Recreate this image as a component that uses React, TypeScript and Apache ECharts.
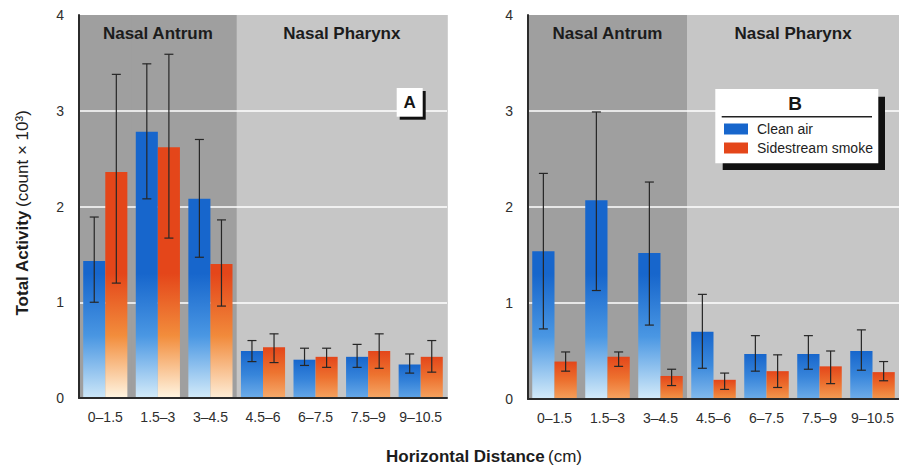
import React, { useEffect, useRef } from 'react';
import * as echarts from 'echarts';

// ---------- data ----------
const categories = ['0–1.5', '1.5–3', '3–4.5', '4.5–6', '6–7.5', '7.5–9', '9–10.5'];
const regions = ['Nasal Antrum', 'Nasal Antrum', 'Nasal Antrum', 'Nasal Pharynx', 'Nasal Pharynx', 'Nasal Pharynx', 'Nasal Pharynx'];
const seriesNames = ['Clean air', 'Sidestream smoke'];
const yMin = 0;
const yMax = 4;
const yInterval = 1;

// Panel A
const cleanAirA = [1.43, 2.78, 2.08, 0.49, 0.40, 0.43, 0.35];
const cleanAirALow = [1.00, 2.08, 1.47, 0.38, 0.34, 0.32, 0.26];
const cleanAirAHigh = [1.89, 3.49, 2.70, 0.60, 0.52, 0.56, 0.46];
const smokeA = [2.36, 2.62, 1.40, 0.53, 0.43, 0.49, 0.43];
const smokeALow = [1.20, 1.67, 0.96, 0.37, 0.32, 0.31, 0.27];
const smokeAHigh = [3.38, 3.59, 1.86, 0.67, 0.52, 0.67, 0.60];

// Panel B
const cleanAirB = [1.54, 2.07, 1.52, 0.70, 0.47, 0.47, 0.50];
const cleanAirBLow = [0.73, 1.13, 0.77, 0.32, 0.29, 0.31, 0.30];
const cleanAirBHigh = [2.35, 2.99, 2.26, 1.09, 0.66, 0.66, 0.72];
const smokeB = [0.39, 0.44, 0.24, 0.20, 0.29, 0.34, 0.28];
const smokeBLow = [0.29, 0.34, 0.14, 0.10, 0.12, 0.16, 0.19];
const smokeBHigh = [0.49, 0.49, 0.31, 0.27, 0.46, 0.50, 0.39];

// ---------- styling ----------
const FONT = '"Liberation Sans", Arial, Helvetica, sans-serif';
const DARK_BG = '#9f9f9f';
const LIGHT_BG = '#c6c6c6';
const BLUE = ['#1766cc', '#4a97e3', '#d4ebf9'];
const ORANGE = ['#e4461a', '#f28d3c', '#fff5e2'];

function hex(c: string) {
  const n = parseInt(c.slice(1), 16);
  return [(n >> 16) & 255, (n >> 8) & 255, n & 255];
}
function mix(a: string, b: string, t: number) {
  const A = hex(a), B = hex(b);
  const r = A.map((v, i) => Math.round(v + (B[i] - v) * t));
  return `rgb(${r[0]},${r[1]},${r[2]})`;
}
function scaleColor(pal: string[], t: number) {
  if (t <= 0.5) return mix(pal[0], pal[1], t / 0.5);
  return mix(pal[1], pal[2], (t - 0.5) / 0.5);
}
function barItems(values: number[], pal: string[]) {
  return values.map((v) => {
    const fadeStart = Math.max(0, 1 - 1.3 / v);
    const p = 0.45 + 0.55 * Math.min(1, v / 1.5);
    return {
      value: v,
      itemStyle: {
        color: {
          type: 'linear', x: 0, y: 0, x2: 0, y2: 1,
          colorStops: [
            { offset: 0, color: scaleColor(pal, 0) },
            { offset: fadeStart, color: scaleColor(pal, 0) },
            { offset: fadeStart + (1 - fadeStart) * 0.5, color: scaleColor(pal, p * 0.5) },
            { offset: 1, color: scaleColor(pal, p) },
          ],
        },
      },
    };
  });
}

const BAR_FRAC = 0.42;

function bgSeries(p: number) {
  return {
    type: 'custom',
    xAxisIndex: p,
    yAxisIndex: p,
    z: 0,
    silent: true,
    clip: false,
    encode: { x: 0, y: 1 },
    data: categories.map((_, i) => [i, yMax]),
    renderItem: (params: any, api: any) => {
      const i = api.value(0);
      const top = api.coord([i, yMax]);
      const bottom = api.coord([i, yMin]);
      const band = api.size([1, 0])[0];
      const region = regions[i];
      const children: any[] = [
        {
          type: 'rect',
          shape: { x: top[0] - band / 2, y: top[1], width: band + 0.8, height: bottom[1] - top[1] },
          style: { fill: region === regions[0] ? DARK_BG : LIGHT_BG },
        },
      ];
      if (i === 0 || regions[i - 1] !== region) {
        const count = regions.filter((r) => r === region).length;
        const cx = top[0] - band / 2 + (count * band) / 2;
        children.push({
          type: 'text',
          x: cx,
          y: top[1] + 18,
          z2: 5,
          style: {
            text: region,
            fill: '#1c1c1c',
            fontSize: 17,
            fontWeight: 'bold',
            fontFamily: FONT,
            align: 'center',
            verticalAlign: 'middle',
          },
        });
      }
      return { type: 'group', children };
    },
  };
}

function barSeries(p: number, name: string, values: number[], pal: string[]) {
  return {
    type: 'bar',
    name,
    xAxisIndex: p,
    yAxisIndex: p,
    z: 2,
    barWidth: `${BAR_FRAC * 100}%`,
    barGap: '0%',
    itemStyle: { color: pal[0] },
    data: barItems(values, pal),
  };
}

function errSeries(p: number, low: number[], high: number[], sign: number) {
  return {
    type: 'custom',
    xAxisIndex: p,
    yAxisIndex: p,
    z: 3,
    silent: true,
    encode: { x: 0, y: [1, 2] },
    data: low.map((l, i) => [i, l, high[i]]),
    renderItem: (params: any, api: any) => {
      const i = api.value(0);
      const lo = api.coord([i, api.value(1)]);
      const hi = api.coord([i, api.value(2)]);
      const band = api.size([1, 0])[0];
      const x = lo[0] + (sign * band * BAR_FRAC) / 2;
      const cap = 4.5;
      const st = { stroke: '#262626', lineWidth: 1.2 };
      return {
        type: 'group',
        children: [
          { type: 'line', shape: { x1: x, y1: hi[1], x2: x, y2: lo[1] }, style: st },
          { type: 'line', shape: { x1: x - cap, y1: hi[1], x2: x + cap, y2: hi[1] }, style: st },
          { type: 'line', shape: { x1: x - cap, y1: lo[1], x2: x + cap, y2: lo[1] }, style: st },
        ],
      };
    },
  };
}

function xAxis(p: number) {
  return {
    type: 'category',
    gridIndex: p,
    data: categories,
    z: 5,
    axisLine: { show: true, lineStyle: { color: '#2b2b2b', width: 2 } },
    axisTick: { show: false },
    axisLabel: { interval: 0, fontSize: 14, color: '#2e2e2e', fontFamily: FONT, margin: 12 },
    splitLine: { show: false },
  };
}

function yAxis(p: number) {
  return {
    type: 'value',
    gridIndex: p,
    min: yMin,
    max: yMax,
    interval: yInterval,
    z: 1,
    axisLine: { show: true, lineStyle: { color: '#2b2b2b', width: 2 } },
    axisTick: { show: false },
    axisLabel: { fontSize: 14, color: '#2e2e2e', fontFamily: FONT, margin: 15 },
    splitLine: { show: true, showMaxLine: false, showMinLine: false, lineStyle: { color: '#ffffff', width: 1.6 } },
  };
}

const option: any = {
  animation: false,
  backgroundColor: '#ffffff',
  grid: [
    { left: 79, top: 15, width: 368, height: 383 },
    { left: 528, top: 15, width: 372, height: 384 },
  ],
  xAxis: [xAxis(0), xAxis(1)],
  yAxis: [yAxis(0), yAxis(1)],
  legend: {
    show: true,
    z: 20,
    data: seriesNames,
    orient: 'vertical',
    left: 724,
    top: 122,
    padding: 0,
    itemWidth: 24,
    itemHeight: 11,
    itemGap: 5,
    icon: 'rect',
    selectedMode: false,
    textStyle: { fontSize: 14, color: '#1e1e1e', fontFamily: FONT, lineHeight: 14, padding: [0, 0, 0, 4] },
  },
  graphic: [
    // A label
    { type: 'rect', z: 10, shape: { x: 399.7, y: 91, width: 26, height: 28.7 }, style: { fill: '#111111' } },
    { type: 'rect', z: 10, shape: { x: 396.7, y: 88, width: 26, height: 28.7 }, style: { fill: '#ffffff' } },
    {
      type: 'text', z: 11, x: 409.7, y: 102.5,
      style: { text: 'A', fontSize: 17, fontWeight: 'bold', fontFamily: FONT, fill: '#151515', align: 'center', verticalAlign: 'middle' },
    },
    // B legend box
    { type: 'rect', z: 10, shape: { x: 722.7, y: 96.7, width: 162.3, height: 73.3 }, style: { fill: '#111111' } },
    { type: 'rect', z: 10, shape: { x: 715.3, y: 89, width: 163, height: 74.3 }, style: { fill: '#ffffff' } },
    {
      type: 'text', z: 11, x: 795, y: 103.5,
      style: { text: 'B', fontSize: 19, fontWeight: 'bold', fontFamily: FONT, fill: '#151515', align: 'center', verticalAlign: 'middle' },
    },
    { type: 'line', z: 11, shape: { x1: 721.7, y1: 116.7, x2: 872, y2: 116.7 }, style: { stroke: '#222222', lineWidth: 1.5 } },
    // axis titles
    {
      type: 'text', z: 11, x: 22, y: 213, rotation: Math.PI / 2,
      style: {
        text: '{b|Total Activity} {r|(count × 10³)}',
        align: 'center', verticalAlign: 'middle',
        rich: {
          b: { fontSize: 17, fontWeight: 'bold', fontFamily: FONT, fill: '#1c1c1c' },
          r: { fontSize: 17, fontFamily: FONT, fill: '#1c1c1c' },
        },
      },
    },
    {
      type: 'text', z: 11, x: 484, y: 456,
      style: {
        text: '{b|Horizontal Distance} {r|(cm)}',
        align: 'center', verticalAlign: 'middle',
        rich: {
          b: { fontSize: 17, fontWeight: 'bold', fontFamily: FONT, fill: '#1c1c1c' },
          r: { fontSize: 17, fontFamily: FONT, fill: '#1c1c1c' },
        },
      },
    },
  ],
  series: [
    bgSeries(0),
    barSeries(0, seriesNames[0], cleanAirA, BLUE),
    barSeries(0, seriesNames[1], smokeA, ORANGE),
    errSeries(0, cleanAirALow, cleanAirAHigh, -1),
    errSeries(0, smokeALow, smokeAHigh, 1),
    bgSeries(1),
    barSeries(1, seriesNames[0], cleanAirB, BLUE),
    barSeries(1, seriesNames[1], smokeB, ORANGE),
    errSeries(1, cleanAirBLow, cleanAirBHigh, -1),
    errSeries(1, smokeBLow, smokeBHigh, 1),
  ],
};

export default function App() {
  const ref = useRef<HTMLDivElement>(null);
  useEffect(() => {
    document.body.style.margin = '0';
    const chart = echarts.init(ref.current as HTMLDivElement, null, { renderer: 'svg' });
    chart.setOption(option);
    return () => chart.dispose();
  }, []);
  return (
    <div
      ref={ref}
      style={{ position: 'absolute', left: 0, top: 0, width: 899, height: 468, background: '#ffffff' }}
    />
  );
}
